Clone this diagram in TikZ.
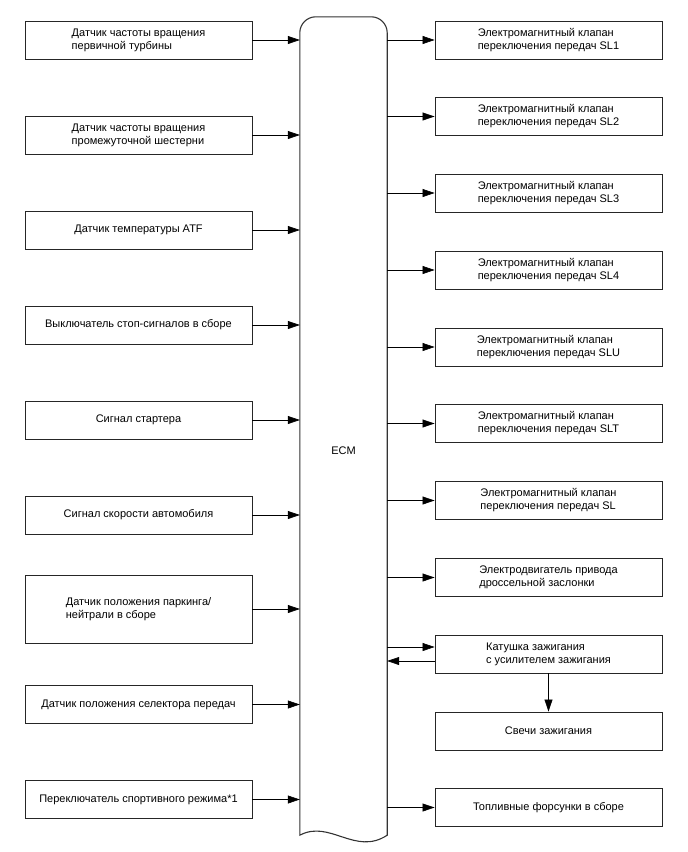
\documentclass[tikz,border=0pt]{standalone}
\usepackage{fontspec}
\setmainfont{Liberation Sans}
\usetikzlibrary{arrows.meta, positioning}

\begin{document}
\begin{tikzpicture}[x=1pt, y=-1pt, >={Triangle[length=12pt, width=8pt]},
    font=\fontsize{11}{13}\selectfont,
    blk/.style={draw=black!85, line width=0.9pt, minimum width=227pt,
        minimum height=38pt, align=left, inner sep=2pt},
    wire/.style={->, line width=0.6pt}]
\useasboundingbox (0,0) rectangle (688,852);

% ── ECM ──────────────────────────────────────────────────────────
\node[minimum width=87pt, minimum height=818pt, inner sep=0pt] (ecm) at (343.5,426) {};
\draw[line width=1.1pt, black!80] (ecm.south west) [rounded corners=16pt] -- (ecm.north west)
    -- (ecm.north east) [sharp corners] -- (ecm.south east)
    .. controls +(-32,21) and +(30,-16) .. (ecm.south west) -- cycle;
\node (ecmtext) at ([yshift=-25pt]ecm.center) {ECM};

% ── Inputs ───────────────────────────────────────────────────────
\node[blk] (turb)  at (138.5,40)    {Датчик частоты вращения\\первичной турбины};
\node[blk] (inter) at (138.5,135)   {Датчик частоты вращения\\промежуточной шестерни};
\node[blk] (atf)   at (138.5,230)   {Датчик температуры ATF};
\node[blk] (stop)  at (138.5,325)   {Выключатель стоп-сигналов в сборе};
\node[blk] (start) at (138.5,420)   {Сигнал стартера};
\node[blk] (speed) at (138.5,515)   {Сигнал скорости автомобиля};
\node[blk, minimum height=68pt] (park) at (138.5,609) {Датчик положения паркинга/\\нейтрали в сборе};
\node[blk] (sel)   at (138.5,704.5) {Датчик положения селектора передач};
\node[blk] (sport) at (138.5,799.5) {Переключатель спортивного режима*1};

\foreach \n in {turb, inter, atf, stop, start, speed, park, sel, sport} {
    \draw[wire] (\n.east) -- (\n.east -| ecm.west);
}

% ── Outputs ──────────────────────────────────────────────────────
\foreach \i/\s/\y in {1/SL1/40, 2/SL2/116.5, 3/SL3/193, 4/SL4/270,
                      5/SLU/347, 6/SLT/423.5, 7/SL/500.5} {
    \node[blk] (sl\i) at (548.5,\y) {Электромагнитный клапан\\переключения передач \s};
    \draw[wire] (sl\i.west -| ecm.east) -- (sl\i.west);
}

\node[blk] (thr)   at (548.5,577.5) {Электродвигатель привода\\дроссельной заслонки};
\node[blk] (coil)  at (548.5,654)   {Катушка зажигания\\с усилителем зажигания};
\node[blk] (plugs) at (548.5,731)   {Свечи зажигания};
\node[blk] (inj)   at (548.5,807.5) {Топливные форсунки в сборе};

\draw[wire] (thr.west -| ecm.east) -- (thr.west);
\draw[wire] ([yshift=7pt]coil.west -| ecm.east) -- ([yshift=7pt]coil.west);
\draw[wire] ([yshift=-7pt]coil.west) -- ([yshift=-7pt]coil.west -| ecm.east);
\draw[wire] (coil.south) -- (plugs.north);
\draw[wire] (inj.west -| ecm.east) -- (inj.west);

\end{tikzpicture}
\end{document}
